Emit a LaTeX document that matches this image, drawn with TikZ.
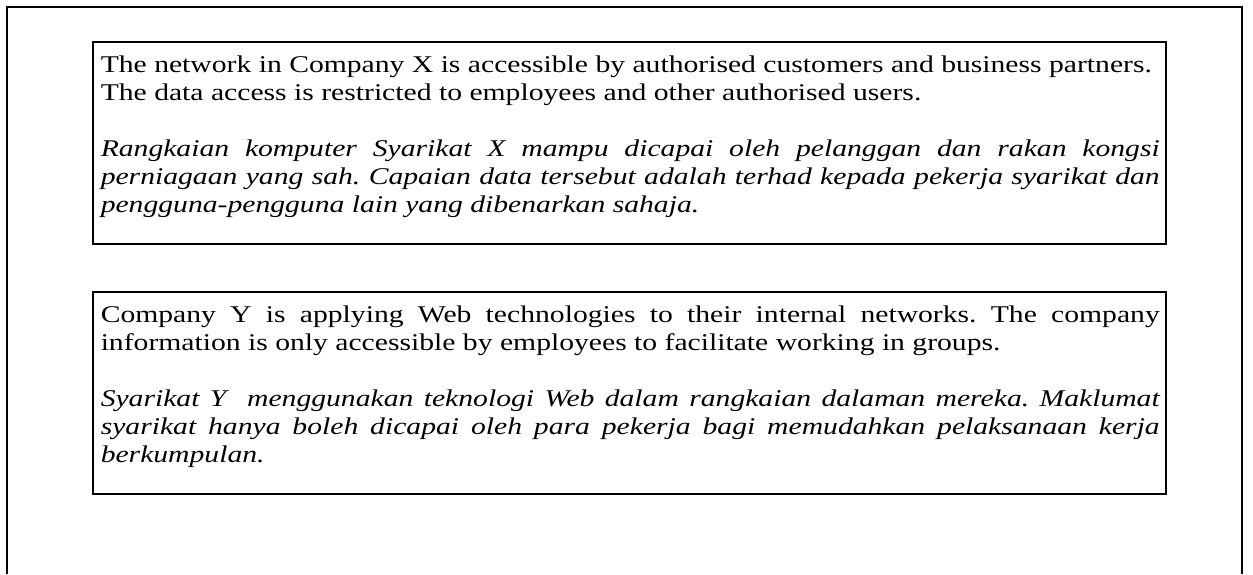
\documentclass[tikz,border=0pt]{standalone}
\usepackage{fontspec}
\setmainfont{Liberation Serif}[FakeStretch=1.235]

\tikzset{every picture/.style={line width=0.75pt}}
\tikzset{
  casebox/.style={draw, line width=1pt, minimum width=536.5pt, minimum height=101pt, inner sep=0pt, anchor=north west},
  casetext/.style={anchor=north west, inner sep=0pt, text width=529.5pt, align=justify, font=\fontsize{12}{14}\selectfont\frenchspacing}
}
\newcommand{\gapline}{\par\vspace*{14pt}}

\begin{document}
\begin{tikzpicture}[x=0.5pt,y=0.5pt,yscale=-1,xscale=1]
\useasboundingbox (0,0) rectangle (1253,574);

%Shape: Outer frame
\draw [line width=1.2pt]  (7,574) -- (7,7) -- (1242,7) -- (1242,574) ;

%Shape: Rectangle
\node [casebox] (boxX) at (92,41) {};
%Shape: Rectangle
\node [casebox] (boxY) at (92,291) {};

% Text Node
\node [casetext] (textX) at (100,55) {The network in Company X is accessible by authorised customers and business partners.\\
The data access is restricted to employees and other authorised users.\gapline
\textit{Rangkaian komputer Syarikat X mampu dicapai oleh pelanggan dan rakan kongsi\linebreak
perniagaan yang sah. Capaian data tersebut adalah terhad kepada pekerja syarikat dan\linebreak
pengguna-pengguna lain yang dibenarkan sahaja.}};

% Text Node
\node [casetext] (textY) at (100,305) {Company Y is applying Web technologies to their internal networks. The company\linebreak
information is only accessible by employees to facilitate working in groups.\gapline
\textit{Syarikat Y\ \ menggunakan teknologi Web dalam rangkaian dalaman mereka. Maklumat\linebreak
syarikat hanya boleh dicapai oleh para pekerja bagi memudahkan pelaksanaan kerja\linebreak
berkumpulan.}};

\end{tikzpicture}
\end{document}
